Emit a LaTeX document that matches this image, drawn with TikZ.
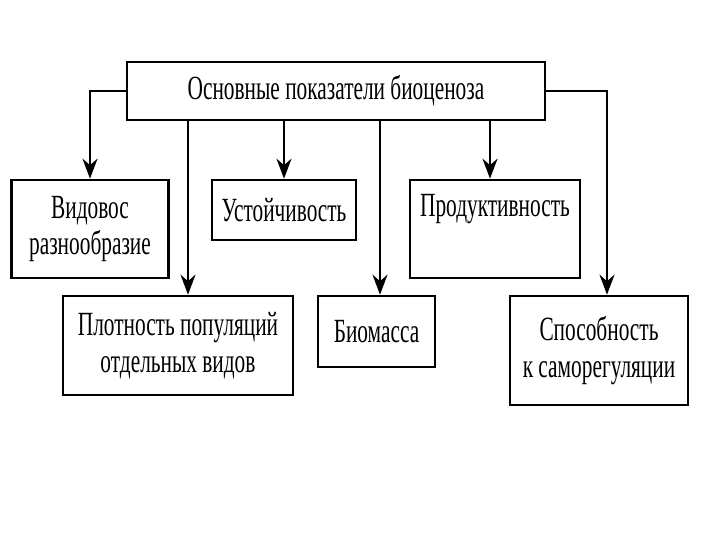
\documentclass[tikz,border=0pt]{standalone}
\usepackage{fontspec}
\setmainfont[FakeStretch=0.63]{Liberation Serif}
\usetikzlibrary{arrows.meta}

\begin{document}
\begin{tikzpicture}[
        x = 1bp, y = -1bp,
        box/.style = {
            draw, line width = 2.6bp,
            rectangle,
            inner sep = 0pt,
            align = center,
            font = \fontsize{34}{37}\selectfont,
        },
        link/.style = {
            line width = 2.4bp,
            -{Stealth[length=20bp,width=15bp]},
        }
    ]
    \useasboundingbox (0,0) rectangle (720,540);

    \node[box,minimum width=418bp,minimum height=58bp] (top)  at (336, 91)   {Основные показатели биоценоза};

    \node[box,minimum width=157bp,minimum height=98bp] (vid)  at (90, 229)   {Видовос\\разнообразие};
    \node[box,minimum width=144bp,minimum height=60bp] (ust)  at (284, 210)  {Устойчивость};
    \node[box,minimum width=170bp,minimum height=98bp] (prod) at (495, 229)  {Продуктивность\\\strut};

    \node[box,minimum width=230bp,minimum height=99bp]  (plot) at (178, 345.5) {Плотность популяций\\отдельных видов};
    \node[box,minimum width=117bp,minimum height=71bp]  (bio)  at (376.5, 331.5) {Биомасса};
    \node[box,minimum width=178bp,minimum height=109bp] (spos) at (599, 350.5) {Способность\\к саморегуляции};

    % vertical arrows leaving the bottom edge
    \coordinate (xplot) at (188, 0);
    \coordinate (xbio)  at (380, 0);
    \coordinate (xprod) at (490, 0);
    \coordinate (xspos) at (607, 0);

    \draw[link] (top.west) -| (vid.north);
    \draw[link] (top.south -| ust.north) -- (ust.north);
    \draw[link] (top.south -| xplot) -- (plot.north -| xplot);
    \draw[link] (top.south -| xbio) -- (bio.north -| xbio);
    \draw[link] (top.south -| xprod) -- (prod.north -| xprod);
    \draw[link] (top.east) -| (spos.north -| xspos);
\end{tikzpicture}
\end{document}
